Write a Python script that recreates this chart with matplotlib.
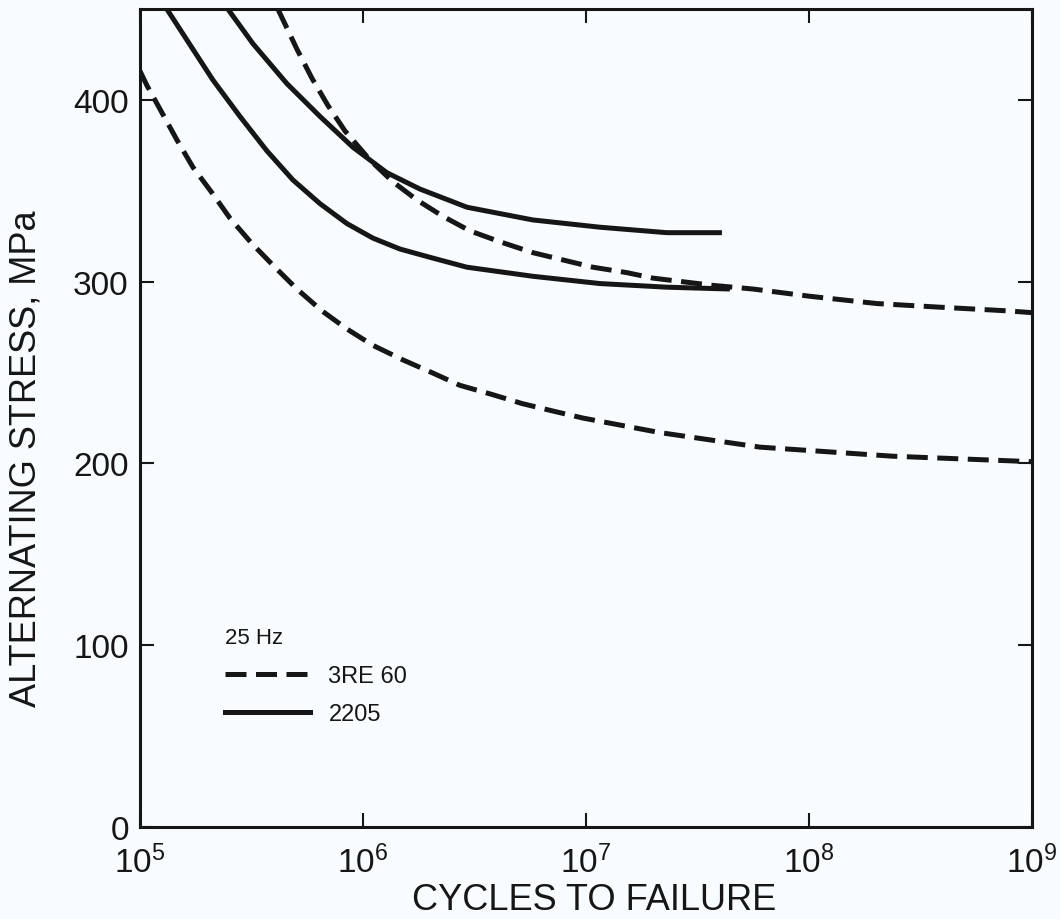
import numpy as np
import matplotlib
matplotlib.use("Agg")
import matplotlib.pyplot as plt
from matplotlib.lines import Line2D

plt.rcParams['font.family'] = ['Liberation Sans', 'DejaVu Sans']
plt.rcParams['mathtext.fontset'] = 'custom'
plt.rcParams['mathtext.rm'] = 'Liberation Sans'

# 3RE 60, lower curve
re60_a_cycles = [1.0e5, 1.075e5, 1.23e5, 1.466e5, 1.729e5, 2.103e5, 2.533e5, 3.178e5,
                 4.031e5, 5.058e5, 6.548e5, 8.478e5, 1.109e6, 1.511e6, 2.039e6, 2.723e6,
                 3.789e6, 5.164e6, 7.04e6, 9.694e6, 2.147e7, 6.03e7, 2.381e8, 1.0e9]
re60_a_stress = [416, 408, 395, 378, 363, 349, 335, 321,
                 308, 296, 284, 274, 265, 257, 250, 243,
                 238, 233, 229, 225, 217, 209, 204, 201]

# 3RE 60, upper curve
re60_b_cycles = [4.157e5, 5.058e5, 5.906e5, 6.966e5, 8.306e5, 1.075e6, 1.363e6, 1.747e6,
                 2.284e6, 3.019e6, 4.116e6, 5.785e6, 7.886e6, 1.075e7, 1.528e7, 1.997e7,
                 2.723e7, 3.711e7, 5.61e7, 1.01e8, 2.018e8, 3.867e8, 7.727e8, 1.0e9]
re60_b_stress = [450, 428, 412, 397, 383, 367, 355, 345,
                 336, 328, 322, 316, 312, 308, 305, 302,
                 300, 298, 296, 292, 288, 286, 284, 283]

# 2205, lower curve
d2205_a_cycles = [1.321e5, 1.625e5, 2.125e5, 2.808e5, 3.711e5, 4.854e5, 6.415e5, 8.478e5,
                  1.109e6, 1.466e6, 2.06e6, 2.927e6, 5.785e6, 1.156e7, 2.308e7, 4.423e7]
d2205_a_stress = [450, 433, 411, 391, 372, 356, 343, 332,
                  324, 318, 313, 308, 303, 299, 297, 296]

# 2205, upper curve
d2205_b_cycles = [2.481e5, 3.212e5, 4.562e5, 6.415e5, 9.02e5, 1.281e6, 1.802e6, 2.533e6,
                  2.927e6, 5.785e6, 1.156e7, 2.308e7, 4.073e7]
d2205_b_stress = [450, 431, 409, 391, 374, 360, 351, 344,
                  341, 334, 330, 327, 327]

x_ticks = [1e5, 1e6, 1e7, 1e8, 1e9]
y_ticks = [0, 100, 200, 300, 400]

ink = '#161616'
lw = 3.6
dash = (0, (4.2, 1.9))

fig = plt.figure(figsize=(10.6, 9.2), dpi=100)
fig.patch.set_facecolor('#f9fcfe')
ax = fig.add_axes([0.132, 0.1, 0.8415, 0.889])
ax.set_facecolor('#f9fcfe')

ax.plot(re60_a_cycles, re60_a_stress, color=ink, lw=lw, linestyle=dash,
        dash_joinstyle='round')
ax.plot(re60_b_cycles, re60_b_stress, color=ink, lw=lw, linestyle=dash,
        dash_joinstyle='round')
ax.plot(d2205_a_cycles, d2205_a_stress, color=ink, lw=lw,
        solid_capstyle='butt', solid_joinstyle='round')
ax.plot(d2205_b_cycles, d2205_b_stress, color=ink, lw=lw,
        solid_capstyle='butt', solid_joinstyle='round')

ax.set_xscale('log')
ax.set_xlim(1e5, 1e9)
ax.set_ylim(0, 450)
ax.set_xticks(x_ticks)
ax.set_yticks(y_ticks)
ax.minorticks_off()
ax.tick_params(direction='in', length=10, width=1.5, top=True, right=True,
               labelsize=24, colors=ink)
ax.tick_params(axis='y', pad=8)
ax.tick_params(axis='x', pad=13)
for s in ax.spines.values():
    s.set_linewidth(2.2)
    s.set_color(ink)

ax.set_xlabel('CYCLES TO FAILURE', fontsize=26, color=ink)
ax.set_ylabel('ALTERNATING STRESS, MPa', fontsize=26, color=ink)
ax.xaxis.set_label_coords(0.509, -0.067)
ax.yaxis.set_label_coords(-0.108, 0.451)

handles = [Line2D([], [], color=ink, lw=lw, linestyle=dash),
           Line2D([], [], color=ink, lw=lw)]
leg = ax.legend(handles, ['3RE 60', '2205'], title='25 Hz', loc='upper left',
                bbox_to_anchor=(0.071, 0.27), frameon=False, fontsize=17,
                title_fontsize=16, handlelength=3.6, handletextpad=0.8,
                labelspacing=0.7, alignment='left')
for t in leg.get_texts():
    t.set_color(ink)
leg.get_title().set_color(ink)

fig.savefig('out.png', dpi=100, facecolor=fig.get_facecolor())
